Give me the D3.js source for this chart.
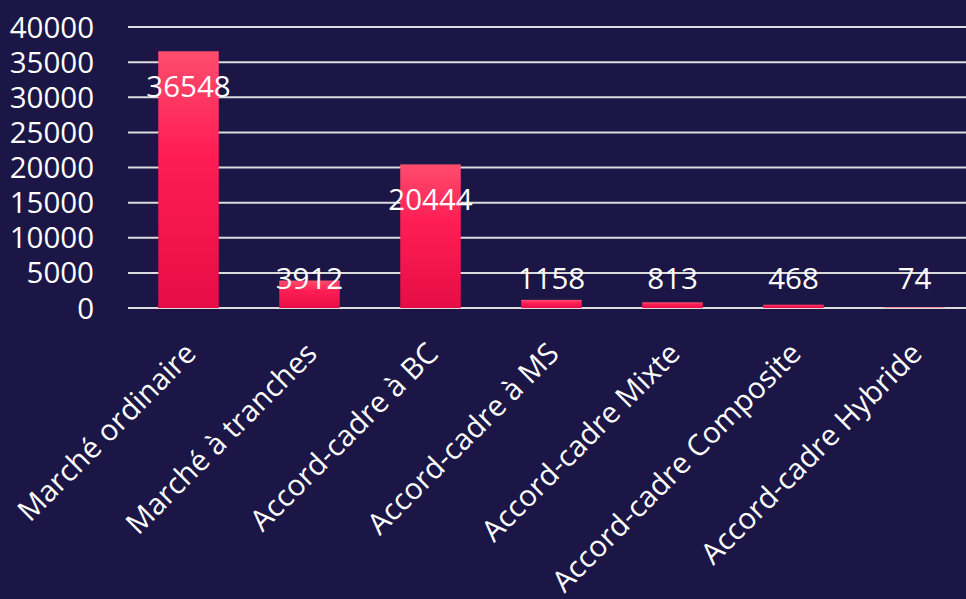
<!DOCTYPE html>
<html>
<head>
<meta charset="utf-8">
<script src="https://cdn.jsdelivr.net/npm/d3@7"></script>
<style>
  html, body { margin: 0; padding: 0; background: #1b1646; overflow: hidden; }
  svg { display: block; font-family: "Open Sans", sans-serif; }
</style>
</head>
<body>
<script>
const categories = ["Marché ordinaire", "Marché à tranches", "Accord-cadre à BC", "Accord-cadre à MS",
  "Accord-cadre Mixte", "Accord-cadre Composite", "Accord-cadre Hybride"];
const values = [36548, 3912, 20444, 1158, 813, 468, 74];
const yTicks = [0, 5000, 10000, 15000, 20000, 25000, 30000, 35000, 40000];

const width = 966, height = 599;
const margin = { top: 27, left: 128, bottom: 291 };
const fontSize = 29.5;

const svg = d3.select('body').append('svg')
  .attr('width', width)
  .attr('height', height);

svg.append('rect')
  .attr('width', width)
  .attr('height', height)
  .attr('fill', '#1b1646');

// bar gradient, per bar
const grad = svg.append('defs').append('linearGradient')
  .attr('id', 'barGrad')
  .attr('x1', 0).attr('y1', 0).attr('x2', 0).attr('y2', 1);
grad.append('stop').attr('offset', '0%').attr('stop-color', '#ff4d6e');
grad.append('stop').attr('offset', '40%').attr('stop-color', '#ff1d54');
grad.append('stop').attr('offset', '100%').attr('stop-color', '#e60d46');

const x = d3.scaleBand()
  .domain(categories)
  .range([margin.left, margin.left + 7 * 121])
  .paddingInner(0.5)
  .paddingOuter(0.25);

const y = d3.scaleLinear()
  .domain([0, 40000])
  .range([height - margin.bottom, margin.top]);

// gridlines
svg.append('g')
  .selectAll('line')
  .data(yTicks)
  .join('line')
  .attr('x1', margin.left)
  .attr('x2', width)
  .attr('y1', d => y(d))
  .attr('y2', d => y(d))
  .attr('stroke', '#dcdcdc')
  .attr('stroke-width', 2);

// y tick labels
svg.append('g')
  .selectAll('text')
  .data(yTicks)
  .join('text')
  .attr('x', 94)
  .attr('y', d => y(d))
  .attr('dy', '0.36em')
  .attr('text-anchor', 'end')
  .attr('fill', '#ffffff')
  .style('font-size', fontSize + 'px')
  .text(d => d);

// bars
svg.append('g')
  .selectAll('rect')
  .data(values)
  .join('rect')
  .attr('x', (d, i) => x(categories[i]))
  .attr('width', x.bandwidth())
  .attr('y', d => y(d))
  .attr('height', d => y(0) - y(d))
  .attr('fill', 'url(#barGrad)');

// value labels
svg.append('g')
  .selectAll('text')
  .data(values)
  .join('text')
  .attr('x', (d, i) => x(categories[i]) + x.bandwidth() / 2)
  .attr('y', d => Math.min(y(d) + 46, y(0) - 19))
  .attr('text-anchor', 'middle')
  .attr('fill', '#ffffff')
  .style('font-size', fontSize + 'px')
  .text(d => d);

// category labels
svg.append('g')
  .selectAll('text')
  .data(categories)
  .join('text')
  .attr('transform', d => `translate(${x(d) + x.bandwidth() / 2 + 2},${y(0) + 40}) rotate(-45)`)
  .attr('text-anchor', 'end')
  .attr('dy', '0.35em')
  .attr('fill', '#ffffff')
  .style('font-size', fontSize + 'px')
  .text(d => d);
</script>
</body>
</html>
